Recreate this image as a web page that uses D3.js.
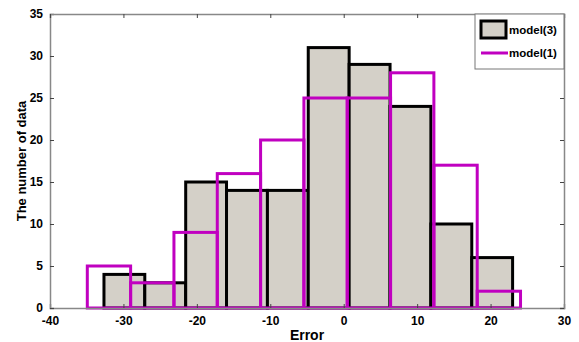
<!DOCTYPE html>
<html>
<head>
<meta charset="utf-8">
<script src="https://cdn.jsdelivr.net/npm/d3@7"></script>
<style>
  body { margin: 0; background: #fff; }
  text { font-family: 'Liberation Sans', Arial, sans-serif; font-weight: bold; }
</style>
</head>
<body>
<div id="chart"></div>
<script>
// histogram bin edges
let model3Edges = [-32.65, -27.09, -21.52, -15.96, -10.39, -4.83, 0.74, 6.31, 11.87, 17.44, 23.0]
let model3Counts = [4, 3, 15, 14, 14, 31, 29, 24, 10, 6]
let model1Edges = [-34.92, -29.02, -23.12, -17.22, -11.32, -5.42, 0.48, 6.38, 12.28, 18.18, 24.08]
let model1Counts = [5, 3, 9, 16, 20, 25, 25, 28, 17, 2]
let xTicks = [-40, -30, -20, -10, 0, 10, 20, 30]
let yTicks = [0, 5, 10, 15, 20, 25, 30, 35]
let legendNames = ['model(3)', 'model(1)']

let margin = { top: 14, left: 50, right: 15, bottom: 34 }
let width = 579 - margin.left - margin.right
let height = 342 - margin.top - margin.bottom

let svg = d3
  .select('#chart')
  .append('svg')
  .attr('width', width + margin.left + margin.right)
  .attr('height', height + margin.top + margin.bottom)
  .append('g')
  .attr('transform', `translate(${margin.left}, ${margin.top})`)

let xPositionScale = d3.scaleLinear().domain([-40, 30]).range([0, width])
let yPositionScale = d3.scaleLinear().domain([0, 35]).range([height, 0])

let bins3 = model3Counts.map((c, i) => ({ x0: model3Edges[i], x1: model3Edges[i + 1], n: c }))
let bins1 = model1Counts.map((c, i) => ({ x0: model1Edges[i], x1: model1Edges[i + 1], n: c }))

// model(3) - filled bars, black outline
svg
  .selectAll('.bar3')
  .data(bins3)
  .enter()
  .append('rect')
  .attr('class', 'bar3')
  .attr('x', d => xPositionScale(d.x0))
  .attr('y', d => yPositionScale(d.n))
  .attr('width', d => xPositionScale(d.x1) - xPositionScale(d.x0))
  .attr('height', d => yPositionScale(0) - yPositionScale(d.n))
  .attr('fill', '#d4d0c8')
  .attr('stroke', '#000')
  .attr('stroke-width', 3)

// model(1) - outline only
svg
  .selectAll('.bar1')
  .data(bins1)
  .enter()
  .append('rect')
  .attr('class', 'bar1')
  .attr('x', d => xPositionScale(d.x0))
  .attr('y', d => yPositionScale(d.n))
  .attr('width', d => xPositionScale(d.x1) - xPositionScale(d.x0))
  .attr('height', d => yPositionScale(0) - yPositionScale(d.n))
  .attr('fill', 'none')
  .attr('stroke', '#c000c0')
  .attr('stroke-width', 3)

// axes box, ticks pointing inward (plain hyphen for negatives)
let axisColor = '#444'
let xAxis = d3.axisBottom(xPositionScale).tickValues(xTicks).tickSize(-4).tickPadding(8)
  .tickFormat(d => String(d))
let yAxis = d3.axisLeft(yPositionScale).tickValues(yTicks).tickSize(-4).tickPadding(7)

svg.append('g').attr('transform', `translate(0, ${height})`).call(xAxis)
svg.append('g').call(yAxis)
svg.append('g').call(d3.axisTop(xPositionScale).tickValues(xTicks).tickSize(-4).tickFormat(''))
svg.append('g').attr('transform', `translate(${width}, 0)`)
  .call(d3.axisRight(yPositionScale).tickValues(yTicks).tickSize(-4).tickFormat(''))

svg.selectAll('.domain').attr('stroke', '#888').attr('stroke-width', 1.5)
svg.selectAll('.tick line').attr('stroke', axisColor)
svg.selectAll('.tick text').attr('font-size', 12).attr('fill', '#000')

svg.append('text')
  .attr('x', width / 2)
  .attr('y', height + 32)
  .attr('text-anchor', 'middle')
  .attr('font-size', 14)
  .text('Error')

svg.append('text')
  .attr('transform', `translate(-24, ${height / 2}) rotate(-90)`)
  .attr('text-anchor', 'middle')
  .attr('font-size', 13)
  .text('The number of data')

// legend
let legend = svg.append('g').attr('transform', `translate(${width - 89}, 0)`)
legend.append('rect')
  .attr('width', 89).attr('height', 55)
  .attr('fill', '#fff').attr('stroke', '#777').attr('stroke-width', 1)
legend.append('rect')
  .attr('x', 6).attr('y', 7).attr('width', 25).attr('height', 17)
  .attr('fill', '#d4d0c8').attr('stroke', '#000').attr('stroke-width', 3)
legend.append('line')
  .attr('x1', 6).attr('x2', 33).attr('y1', 39).attr('y2', 39)
  .attr('stroke', '#c000c0').attr('stroke-width', 3)
legend.selectAll('.leg-text')
  .data(legendNames)
  .enter()
  .append('text')
  .attr('x', 34)
  .attr('y', (d, i) => 20 + i * 23)
  .attr('font-size', 11.5)
  .text(d => d)
</script>
</body>
</html>
